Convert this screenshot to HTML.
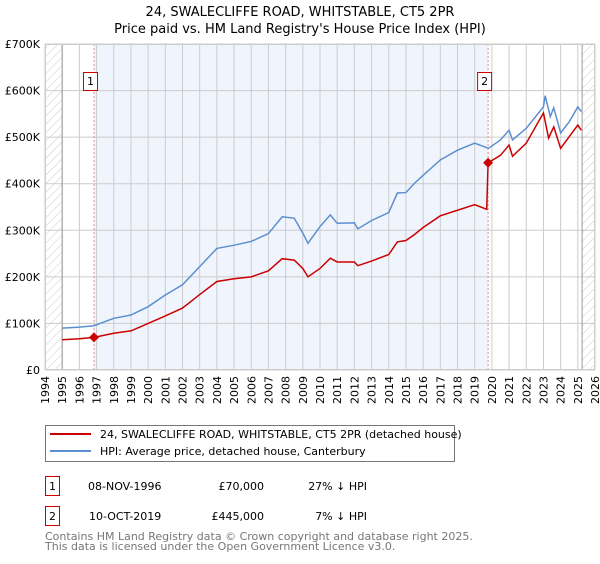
<!DOCTYPE html>
<html><head><meta charset="utf-8"><style>
body{margin:0;background:#fff;font-family:"DejaVu Sans","Liberation Sans",sans-serif;}
svg text{font-family:"DejaVu Sans","Liberation Sans",sans-serif;}
</style></head><body>
<svg id="c" width="600" height="560" xmlns="http://www.w3.org/2000/svg">
<defs><pattern id="hatch" width="6" height="6" patternUnits="userSpaceOnUse" patternTransform="rotate(45)"><line x1="0" y1="0" x2="0" y2="6" stroke="#ccc" stroke-width="1"/></pattern></defs>
<text x="300" y="16" text-anchor="middle" font-size="13">24, SWALECLIFFE ROAD, WHITSTABLE, CT5 2PR</text>
<text x="300" y="33" text-anchor="middle" font-size="13">Price paid vs. HM Land Registry's House Price Index (HPI)</text>
<g id="plot"></g>
<g>
<rect x="45.5" y="425.5" width="409" height="36" fill="#fff" stroke="#777"/>
<line x1="50" y1="434" x2="91" y2="434" stroke="#cc0000" stroke-width="2"/>
<text x="100" y="438" font-size="11">24, SWALECLIFFE ROAD, WHITSTABLE, CT5 2PR (detached house)</text>
<line x1="50" y1="451" x2="91" y2="451" stroke="#5b8fd0" stroke-width="2"/>
<text x="100" y="455" font-size="11">HPI: Average price, detached house, Canterbury</text>
</g>
<g font-size="11">
<rect x="45.5" y="476.5" width="14" height="19" fill="#fff" stroke="#cc0000"/><text x="52.5" y="490" text-anchor="middle">1</text>
<text x="88" y="490">08-NOV-1996</text><text x="264" y="490" text-anchor="end">£70,000</text><text x="367" y="490" text-anchor="end">27% ↓ HPI</text>
<rect x="45.5" y="506.5" width="14" height="19" fill="#fff" stroke="#cc0000"/><text x="52.5" y="520" text-anchor="middle">2</text>
<text x="89" y="520">10-OCT-2019</text><text x="264" y="520" text-anchor="end">£445,000</text><text x="367" y="520" text-anchor="end">7% ↓ HPI</text>
</g>
<text x="45" y="540" font-size="11" fill="#777">Contains HM Land Registry data © Crown copyright and database right 2025.</text>
<text x="45" y="550" font-size="11" fill="#777">This data is licensed under the Open Government Licence v3.0.</text>
</svg>
<script>
const hpiYears=[1995,1996,1996.85,1998,1999,2000,2001,2002,2003,2004,2005,2006,2007,2007.8,2008.5,2009,2009.3,2010,2010.6,2011,2012,2012.2,2013,2014,2014.5,2015,2015.5,2016,2017,2018,2019,2019.8,2020.5,2021,2021.2,2022,2023,2023.1,2023.4,2023.6,2024,2024.5,2025,2025.2];
const hpiValues=[90,92,95,111,118,136,161,183,222,261,268,276,293,329,326,294,272,308,333,315,316,303,321,338,380,381,401,418,451,472,487,476,494,515,494,519,565,589,544,563,509,533,565,555];
const redYears=[1995,1996,1996.85,1998,1999,2000,2001,2002,2003,2004,2005,2006,2007,2007.8,2008.5,2009,2009.3,2010,2010.6,2011,2012,2012.2,2013,2014,2014.5,2015,2015.5,2016,2017,2018,2019,2019.7,2019.78,2020.5,2021,2021.2,2022,2023,2023.3,2023.6,2024,2024.5,2025,2025.2];
const redValues=[65,67,70,79,84,100,116,133,162,190,196,200,213,239,236,218,200,218,240,232,232,224,234,248,275,278,291,306,331,343,355,345,445,461,483,459,487,552,498,522,476,501,526,515];
const saleYears=[1996.85,2019.78];
const saleValues=[70,445];
const saleLabels=["1","2"];
const yTicks=[0,100,200,300,400,500,600,700];
const yTickLabels=["£0","£100K","£200K","£300K","£400K","£500K","£600K","£700K"];
const xTicks=[1994,1995,1996,1997,1998,1999,2000,2001,2002,2003,2004,2005,2006,2007,2008,2009,2010,2011,2012,2013,2014,2015,2016,2017,2018,2019,2020,2021,2022,2023,2024,2025,2026];
const X0=45,X1=595,Y0=370,Y1=44;
const xs=y=>X0+(y-1994)/32*(X1-X0);
const ys=v=>Y0-v/700*(Y0-Y1);
const NS="http://www.w3.org/2000/svg";
const g=document.getElementById('plot');
function mk(t,a){const e=document.createElementNS(NS,t);for(const k in a)e.setAttribute(k,a[k]);g.appendChild(e);return e;}
let e;
e=mk('rect',{x:xs(saleYears[0]),y:Y1,width:xs(saleYears[1])-xs(saleYears[0]),height:Y0-Y1,fill:'#f0f5fd'});


e=mk('rect',{x:X0,y:Y1,width:xs(1995)-X0,height:Y0-Y1,fill:'url(#hatch)'});


e=mk('rect',{x:xs(2025.25),y:Y1,width:X1-xs(2025.25),height:Y0-Y1,fill:'url(#hatch)'});


yTicks.forEach((t,i)=>{
 e=mk('line',{x1:X0,x2:X1,y1:ys(t),y2:ys(t),stroke:'#ccc','stroke-width':1});
 
 
 e=mk('text',{x:X0-5,y:ys(t)+4,'text-anchor':'end','font-size':11});
 e.textContent=yTickLabels[i];
 
 
});
xTicks.forEach(t=>{
 e=mk('line',{x1:xs(t),x2:xs(t),y1:Y1,y2:Y0,stroke:'#ccc','stroke-width':1});
 
 
 e=mk('text',{x:0,y:0,'font-size':11,'text-anchor':'end',transform:`translate(${xs(t)+4},${Y0+6}) rotate(-90)`});
 e.textContent=t;
 
 
});
e=mk('line',{x1:xs(1995),x2:xs(1995),y1:Y1,y2:Y0,stroke:'#999'});


e=mk('line',{x1:xs(2025.25),x2:xs(2025.25),y1:Y1,y2:Y0,stroke:'#999'});


saleYears.forEach((y,i)=>{
 e=mk('line',{x1:xs(y),x2:xs(y),y1:Y1,y2:Y0,stroke:'#e88','stroke-dasharray':'2,2'});
 
 
 e=mk('rect',{x:xs(y)-10.5,y:72.5,width:14,height:18,fill:'#fff',stroke:'#cc0000'});
 
 
 e=mk('text',{x:xs(y)-3.5,y:85,'text-anchor':'middle','font-size':11});
 e.textContent=saleLabels[i];
 
 
});
e=mk('polyline',{points:hpiYears.map((y,i)=>xs(y)+','+ys(hpiValues[i])).join(' '),fill:'none',stroke:'#5b8fd0','stroke-width':1.5});


e=mk('polyline',{points:redYears.map((y,i)=>xs(y)+','+ys(redValues[i])).join(' '),fill:'none',stroke:'#cc0000','stroke-width':1.5});


saleYears.forEach((y,i)=>{
 const cx=xs(y),cy=ys(saleValues[i]);
 e=mk('polygon',{points:`${cx},${cy-5} ${cx+5},${cy} ${cx},${cy+5} ${cx-5},${cy}`,fill:'#cc0000'});
 
 
});
e=mk('rect',{x:X0+0.5,y:Y1+0.5,width:X1-X0-1,height:Y0-Y1-1,fill:'none',stroke:'#ccc'});


</script>
</body></html>
